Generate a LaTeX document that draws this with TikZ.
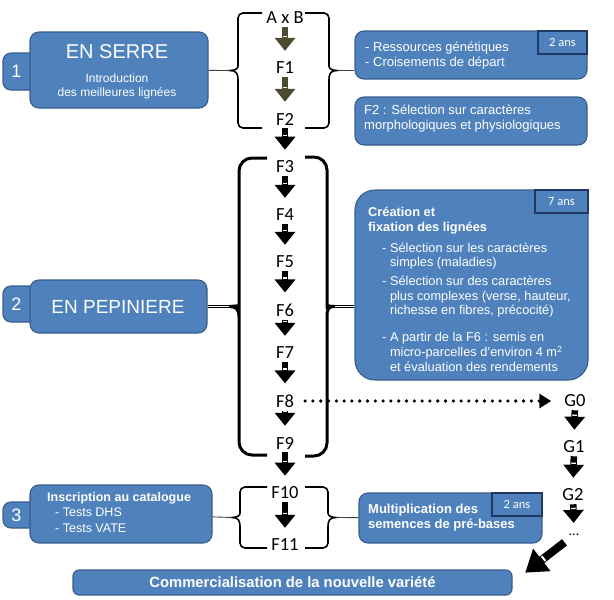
\documentclass[tikz,border=0pt]{standalone}
\usepackage{fontspec}
\setmainfont{Liberation Sans}
\newfontfamily\calibri{Carlito}
\usetikzlibrary{arrows.meta,decorations.markings}

\definecolor{boxblue}{RGB}{79,129,189}
\definecolor{boxline}{RGB}{56,93,138}
\definecolor{tabline}{RGB}{32,56,100}
\definecolor{darkolive}{RGB}{77,74,50}

\tikzset{
  box/.style={draw=boxline, fill=boxblue, line width=1.1pt, rounded corners=9pt, inner sep=0pt},
  numtab/.style={box, rounded corners=8pt, minimum width=37pt},
  num/.style={inner sep=0pt, text=white, font=\fontsize{18}{20}\selectfont},
  title/.style={inner sep=0pt, text=white, font=\fontsize{20}{22}\selectfont},
  years/.style={draw=tabline, fill=boxblue, line width=1.1pt, inner sep=0pt, anchor=north east,
    minimum height=23pt, text=white, font=\calibri\fontsize{12.5}{14}\selectfont},
  txt/.style={text=white, align=left, inner sep=0pt, anchor=west, font=\fontsize{13}{15}\selectfont},
  gen/.style={inner sep=0pt, font=\calibri\fontsize{18.5}{20}\selectfont},
  genarrow/.style={line width=6.5pt, -{Triangle[width=20pt,length=13pt]}, shorten <=3pt, shorten >=11pt,
    postaction={decorate}, decoration={markings,
      mark=at position -25.5pt with {\fill[white] (-0.7pt,-2.3pt) rectangle (0.7pt,2.3pt);}}},
  bigarrow/.style={line width=8pt, -{Triangle[width=27pt,length=21pt]}, shorten <=12pt, shorten >=16pt,
    postaction={decorate}, decoration={markings,
      mark=at position -39pt with {\fill[white] (-1pt,-3pt) rectangle (1pt,3pt);}}},
  dotline/.style={line width=3.6pt, line cap=round, dash pattern=on 0pt off 7.8pt,
    -{Triangle[width=14pt,length=12pt]}, shorten <=11pt, shorten >=13pt},
  brace/.style={line width=1.6pt, rounded corners=5pt},
  bigbrace/.style={line width=3pt, rounded corners=13pt},
  link/.style={line width=0.9pt, black!75},
  duplink/.style={line width=0.9pt, double, double distance=1.2pt},
}

\begin{document}
\begin{tikzpicture}[x=1pt, y=-1pt]
\useasboundingbox (0,0) rectangle (614,600);

% generations
\node[gen] (AB) at (285,18) {A x B};
\node[gen] (F1) at (285,68) {F1};
\node[gen] (F2) at (285,119) {F2};
\node[gen] (F3) at (285,167) {F3};
\node[gen] (F4) at (285,215) {F4};
\node[gen] (F5) at (285,262) {F5};
\node[gen] (F6) at (285,310) {F6};
\node[gen] (F7) at (285,353) {F7};
\node[gen] (F8) at (285,401) {F8};
\node[gen] (F9) at (285,443) {F9};
\node[gen] (F10) at (285,493) {F10};
\node[gen] (F11) at (285,545) {F11};
\node[gen] (G0) at (575,401) {G0};
\node[gen] (G1) at (574,447) {G1};
\node[gen] (G2) at (573,495) {G2};
\node[gen, font=\calibri\fontsize{14}{16}\selectfont] (dots) at (574,535) {...};

% braces
\coordinate (b1l) at (230,70.5);
\coordinate (b1r) at (337,70.5);
\coordinate (b2l) at (229,306.5);
\coordinate (b2r) at (335,306.5);
\coordinate (b3l) at (232,517.5);
\coordinate (b3r) at (336,517.5);

\draw[brace] (262,13) -- (238,13) -- (238,61) [sharp corners] .. controls +(0,7) and +(6,0) .. (b1l)
  .. controls +(6,0) and +(0,-7) .. (238,80) [rounded corners=5pt] -- (238,128) -- (262,128);
\draw[brace] (305,13) -- (329,13) -- (329,61) [sharp corners] .. controls +(0,7) and +(-6,0) .. (b1r)
  .. controls +(-6,0) and +(0,-7) .. (329,80) [rounded corners=5pt] -- (329,128) -- (305,128);

\draw[bigbrace] (267,158) -- (239,158) -- (239,296) [sharp corners] .. controls +(0,8) and +(7,0) .. (b2l)
  .. controls +(7,0) and +(0,-8) .. (239,317) [rounded corners=13pt] -- (239,455) -- (267,455);
\draw[bigbrace] (305,157) -- (327,157) -- (327,296) [sharp corners] .. controls +(0,8) and +(-7,0) .. (b2r)
  .. controls +(-7,0) and +(0,-8) .. (327,317) [rounded corners=13pt] -- (327,456) -- (305,456);

\draw[brace] (267,487) -- (240,487) -- (240,508) [sharp corners] .. controls +(0,7) and +(6,0) .. (b3l)
  .. controls +(6,0) and +(0,-7) .. (240,527) [rounded corners=5pt] -- (240,548) -- (267,548);
\draw[brace] (305,487) -- (328,487) -- (328,508) [sharp corners] .. controls +(0,7) and +(-6,0) .. (b3r)
  .. controls +(-6,0) and +(0,-7) .. (328,527) [rounded corners=5pt] -- (328,548) -- (305,548);

% 1 - en serre
\node[numtab, minimum height=37pt] (tab1) at (21.5,71.5) {};
\node[box, minimum width=178pt, minimum height=76pt] (serre) at (119,70) {};
\node[num] (n1) at (16.5,71.5) {1};
\node[title] (serretitle) at (117,52) {EN SERRE};
\node[txt, anchor=center, align=center, font=\fontsize{12}{14}\selectfont] (serretxt) at (117,86.5)
  {Introduction\\des meilleures lignées};

\node[box, minimum width=232pt, minimum height=48pt] (ress) at (471,55) {};
\node[years, minimum width=49pt] (yr1) at (ress.north east) {2 ans};
\node[txt] (resstxt) at (365,55.5) {- Ressources génétiques\\- Croisements de départ};

\node[box, minimum width=232pt, minimum height=48pt] (morpho) at (471,121) {};
\node[txt] (morphotxt) at (364,118.5) {F2 : Sélection sur caractères\\morphologiques et physiologiques};

% 2 - en pepiniere
\node[numtab, minimum height=36pt] (tab2) at (21.5,304) {};
\node[box, minimum width=177pt, minimum height=53pt] (pepin) at (118.5,306.5) {};
\node[num] (n2) at (16.5,304) {2};
\node[title, font=\fontsize{19}{21}\selectfont] (pepintitle) at (118,307) {EN PEPINIERE};

\node[box, rounded corners=20pt, minimum width=233pt, minimum height=190pt] (creation) at (471.5,285) {};
\node[years, minimum width=53pt] (yr2) at (creation.north east) {7 ans};
\node[txt, font=\bfseries\fontsize{12.8}{15}\selectfont] (cr1) at (368,220.5) {Création et\\fixation des lignées};
\node[txt, font=\fontsize{12.8}{14.5}\selectfont] (cr2) at (382,256)
  {- Sélection sur les caractères\\\phantom{- }simples (maladies)};
\node[txt, font=\fontsize{12.8}{14.5}\selectfont] (cr3) at (382,297)
  {- Sélection sur des caractères\\\phantom{- }plus complexes (verse, hauteur,\\\phantom{- }richesse en fibres, précocité)};
\node[txt, font=\fontsize{12.8}{15}\selectfont] (cr4) at (382,352)
  {- A partir de la F6 : semis en\\\phantom{- }micro-parcelles d’environ 4 m\textsuperscript{2}\\\phantom{- }et évaluation des rendements};

% 3 - inscription
\node[numtab, minimum height=26pt] (tab3) at (21.5,515) {};
\node[box, minimum width=182pt, minimum height=58pt] (inscr) at (121,514) {};
\node[num] (n3) at (16.5,515) {3};
\node[txt, font=\fontsize{12.5}{15.5}\selectfont] (inscrtxt) at (47,512.5)
  {\textbf{Inscription au catalogue}\\\hspace*{8pt}- Tests DHS\\\hspace*{8pt}- Tests VATE};

\node[box, minimum width=183pt, minimum height=50pt] (multi) at (450.5,518) {};
\node[years, minimum width=50pt] (yr3) at (multi.north east) {2 ans};
\node[txt, font=\bfseries\fontsize{13}{15}\selectfont] (multitxt) at (368,517.5)
  {Multiplication des\\semences de pré-bases};

\node[box, rounded corners=6pt, minimum width=439pt, minimum height=25pt, text=white,
  font=\bfseries\fontsize{14.8}{16}\selectfont] (comm) at (292.5,582.5) {Commercialisation de la nouvelle variété};

% links to braces
\draw[link] (serre) -- (b1l);
\draw[link] (b1r) -- (b1r -| ress.west);
\draw[duplink] (pepin) -- (b2l);
\draw[duplink] (b2r) -- (b2r -| creation.west);
\draw[link] (inscr) -- (b3l);
\draw[link] (b3r) -- (multi);

% arrows
\draw[genarrow, darkolive] (AB) -- (F1);
\draw[genarrow, darkolive] (F1) -- (F2);
\draw[genarrow] (F2) -- (F3);
\draw[genarrow] (F3) -- (F4);
\draw[genarrow] (F4) -- (F5);
\draw[genarrow] (F5) -- (F6);
\draw[genarrow] (F6) -- (F7);
\draw[genarrow] (F7) -- (F8);
\draw[genarrow] (F8) -- (F9);
\draw[genarrow] (F9) -- (F10);
\draw[genarrow] (F10) -- (F11);
\draw[genarrow] (G0) -- (G1);
\draw[genarrow] (G1) -- (G2);
\draw[genarrow] (G2) -- (dots);
\draw[dotline] (F8) -- (G0);
\draw[bigarrow] (dots.center) -- (comm.east);
\end{tikzpicture}
\end{document}
